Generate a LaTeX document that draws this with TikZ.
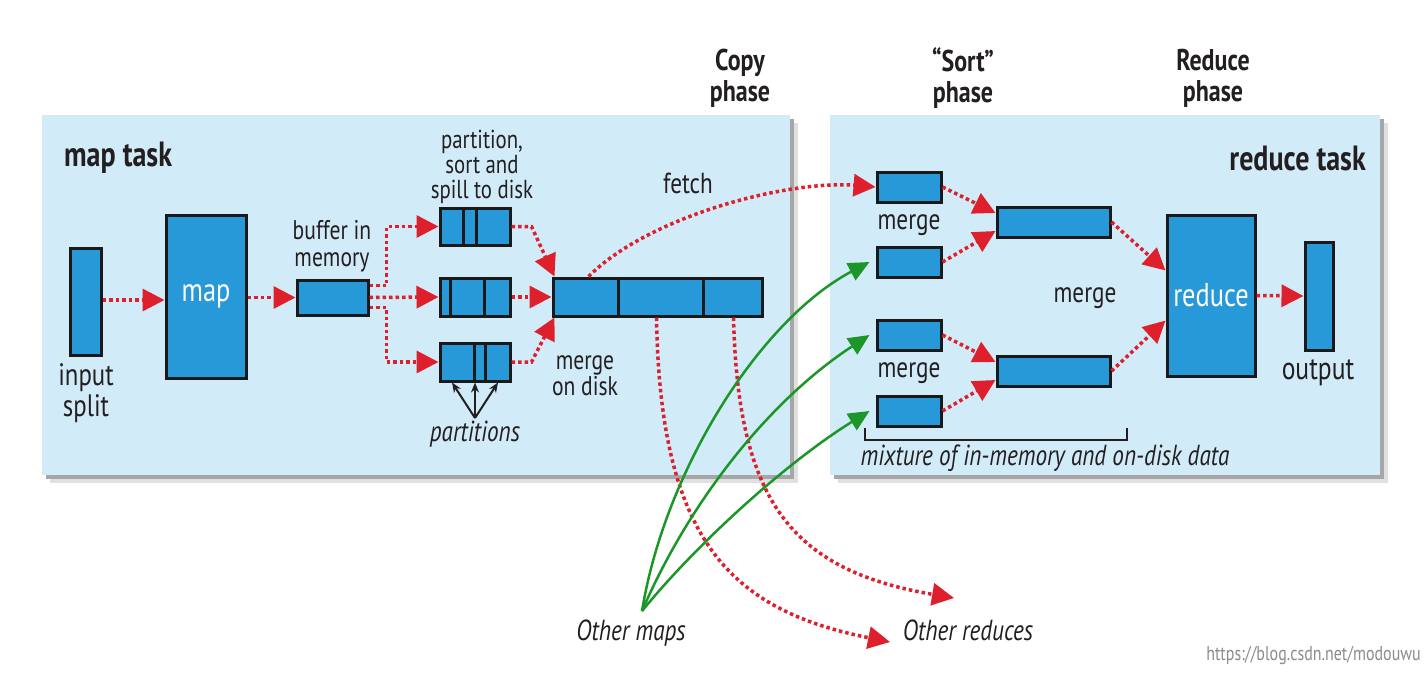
\documentclass[tikz,border=0pt]{standalone}
\usepackage{fontspec}
\setmainfont{PT Sans}[FakeStretch=0.8]
\usetikzlibrary{arrows.meta}
\definecolor{panelblue}{RGB}{209,235,248}
\definecolor{boxblue}{RGB}{39,152,216}
\definecolor{dotred}{RGB}{221,32,44}
\definecolor{arrgreen}{RGB}{28,150,40}
\definecolor{txt}{RGB}{35,31,32}
\begin{document}
\begin{tikzpicture}[x=1pt,y=-1pt,
  panel/.style={fill=panelblue, draw=none, inner sep=0pt, rectangle, anchor=north west},
  box/.style={draw=black!90, fill=boxblue, line width=3pt, inner sep=0pt, rectangle},
  divider/.style={draw=black!90, line width=3pt},
  rarrow/.style={draw=dotred, line width=3.5pt, dash pattern=on 3.5pt off 3pt, -{Triangle[length=22pt,width=22pt]}},
  garrow/.style={draw=arrgreen, line width=2.5pt, -{Triangle[length=21pt,width=19pt]}},
  parrow/.style={draw=txt, line width=2pt, -{Stealth[length=10pt,width=8pt]}},
  lbl/.style={text=txt, font=\fontsize{29}{24}\selectfont, align=center, inner sep=0pt},
  ilbl/.style={text=txt, font=\fontsize{29}{24}\selectfont\itshape, align=center, inner sep=0pt},
  head/.style={text=txt, font=\fontsize{30}{31}\selectfont\bfseries, align=center, inner sep=0pt},
  bighead/.style={text=txt, font=\fontsize{35}{36}\selectfont\bfseries, inner sep=0pt},
  wlbl/.style={text=white, font=\fontsize{33}{34}\selectfont, inner sep=0pt}
]
\useasboundingbox (0,0) rectangle (1426,672);
\fill[white] (0,0) rectangle (1426,672);

% panels with shadows
\fill[black!12] (50,123) rectangle (798,483);
\fill[black!35] (46,119) rectangle (794,479);
\node[panel, minimum width=748pt, minimum height=360pt] (mappanel) at (42,115) {};
\fill[black!12] (838,123) rectangle (1388,483);
\fill[black!35] (834,119) rectangle (1384,479);
\node[panel, minimum width=550pt, minimum height=360pt] (redpanel) at (830,115) {};

% phase titles
\node[head] (copyph) at (740,78) {Copy\\phase};
\node[head] (sortph) at (963,78) {“Sort”\\phase};
\node[head] (redph) at (1213,78) {Reduce\\phase};
\node[bighead, anchor=west] (maptask) at (64,158) {map task};
\node[bighead, anchor=east] (redtask) at (1366,158) {reduce task};

% map side
\node[box, minimum width=31pt, minimum height=107pt] (inp) at (85.5,301.5) {};
\node[lbl, font=\fontsize{31}{31}\selectfont] (inplbl) at (86,393) {input\\split};
\node[box, minimum width=80pt, minimum height=163pt] (mapn) at (206,296.5) {};
\node[wlbl] at (mapn) {map};
\node[box, minimum width=71pt, minimum height=35pt] (buf) at (332.5,297.5) {};
\node[lbl, font=\fontsize{27}{27}\selectfont] (buflbl) at (332,246) {buffer in\\memory};

\node[box, minimum width=70pt, minimum height=37pt] (p1) at (475,226.5) {};
\node[box, minimum width=70pt, minimum height=38pt] (p2) at (475,297) {};
\node[box, minimum width=70pt, minimum height=38pt] (p3) at (475,362) {};
\draw[divider] ([xshift=25]p1.north west) -- ([xshift=25]p1.south west);
\draw[divider] ([xshift=38]p1.north west) -- ([xshift=38]p1.south west);
\draw[divider] ([xshift=12]p2.north west) -- ([xshift=12]p2.south west);
\draw[divider] ([xshift=46]p2.north west) -- ([xshift=46]p2.south west);
\draw[divider] ([xshift=36]p3.north west) -- ([xshift=36]p3.south west);
\draw[divider] ([xshift=47]p3.north west) -- ([xshift=47]p3.south west);
\node[lbl, font=\fontsize{26}{25}\selectfont] (pslbl) at (482,167) {partition,\\sort and\\spill to disk};

\node[ilbl] (partlbl) at (475,434) {partitions};
\coordinate (pp) at (475,418);
\draw[parrow] (pp) -- ([xshift=-23]p3.south);
\draw[parrow] (pp) -- (p3.south);
\draw[parrow] (pp) -- ([xshift=23]p3.south);

\node[box, minimum width=209pt, minimum height=38pt] (mrg) at (657.5,297) {};
\draw[divider] ([xshift=67]mrg.north west) -- ([xshift=67]mrg.south west);
\draw[divider] ([xshift=152]mrg.north west) -- ([xshift=152]mrg.south west);
\node[lbl, font=\fontsize{27}{26}\selectfont] (mdlbl) at (585,376) {merge\\on disk};
\node[lbl] (fetchlbl) at (688,183) {fetch};

% map side arrows
\draw[rarrow] (inp.east |- 0,300) -- (mapn.west |- 0,300);
\draw[rarrow] (mapn.east |- buf.west) -- (buf.west);
\draw[rarrow] ([yshift=12]buf.east) -- ++(17,0) |- (p1.west);
\draw[rarrow] (buf.east) -- (p2.west);
\draw[rarrow] ([yshift=-10]buf.east) -- ++(17,0) |- (p3.west);
\draw[rarrow] (p1.east) -- ++(20,0) -- ([xshift=3]mrg.north west);
\draw[rarrow] (p2.east) -- (mrg.west);
\draw[rarrow] (p3.east) -- ++(20,0) -- ([xshift=3]mrg.south west);

% reduce side
\node[box, minimum width=64pt, minimum height=30pt] (r1) at (909,187) {};
\node[box, minimum width=64pt, minimum height=30pt] (r2) at (909,262) {};
\node[box, minimum width=64pt, minimum height=30pt] (r3) at (909,335) {};
\node[box, minimum width=64pt, minimum height=30pt] (r4) at (909,411) {};
\node[lbl] (mlbl1) at (909,225) {merge};
\node[lbl] (mlbl2) at (909,373) {merge};
\node[box, minimum width=113pt, minimum height=30pt] (m1) at (1053.5,222) {};
\node[box, minimum width=113pt, minimum height=30pt] (m2) at (1053.5,371) {};
\node[lbl] (mlbl3) at (1085,298) {merge};
\node[box, minimum width=88pt, minimum height=161pt] (red) at (1211,295.5) {};
\node[wlbl] at (red) {reduce};
\node[box, minimum width=28pt, minimum height=108pt] (out) at (1319,296) {};
\node[lbl, font=\fontsize{32}{30}\selectfont] (outlbl) at (1318,373) {output};

\draw[rarrow] (r1.east) -- ([yshift=9]m1.west);
\draw[rarrow] (r2.east) -- ([yshift=-9]m1.west);
\draw[rarrow] (r3.east) -- ([yshift=9]m2.west);
\draw[rarrow] (r4.east) -- ([yshift=-9]m2.west);
\draw[rarrow] (m1.east) -- ([yshift=25]red.west);
\draw[rarrow] (m2.east) -- ([yshift=-25]red.west);
\draw[rarrow] (red.east) -- (out.west);

\draw[line width=1.5pt, draw=txt] (865,428) |- (1127,440) -- (1127,428);
\node[ilbl] (mixlbl) at (1045,458) {mixture of in-memory and on-disk data};

% fetch and other reduces
\draw[rarrow] ([xshift=37]mrg.north west) .. controls (650,215) and (790,180) .. (r1.west);
\coordinate (ored1) at (890,642);
\coordinate (ored2) at (954,598);
\draw[rarrow] ([xshift=105]mrg.south west) .. controls (660,540) and (730,610) .. (ored1);
\draw[rarrow] ([xshift=182]mrg.south west) .. controls (738,500) and (790,570) .. (ored2);
\node[ilbl] (oredlbl) at (968,630) {Other reduces};

% other maps
\node[ilbl] (omlbl) at (631,633) {Other maps};
\coordinate (om) at (642,611);
\draw[garrow] (om) .. controls (665,470) and (760,320) .. ([xshift=-6]r2.west);
\draw[garrow] (om) .. controls (690,500) and (770,400) .. ([xshift=-6]r3.west);
\draw[garrow] (om) .. controls (700,540) and (790,460) .. ([xshift=-6]r4.west);

\node[text=black!45, font=\fontsize{20}{20}\selectfont, anchor=east, inner sep=0pt] (wm) at (1421,655) {https://blog.csdn.net/modouwu};
\end{tikzpicture}
\end{document}
